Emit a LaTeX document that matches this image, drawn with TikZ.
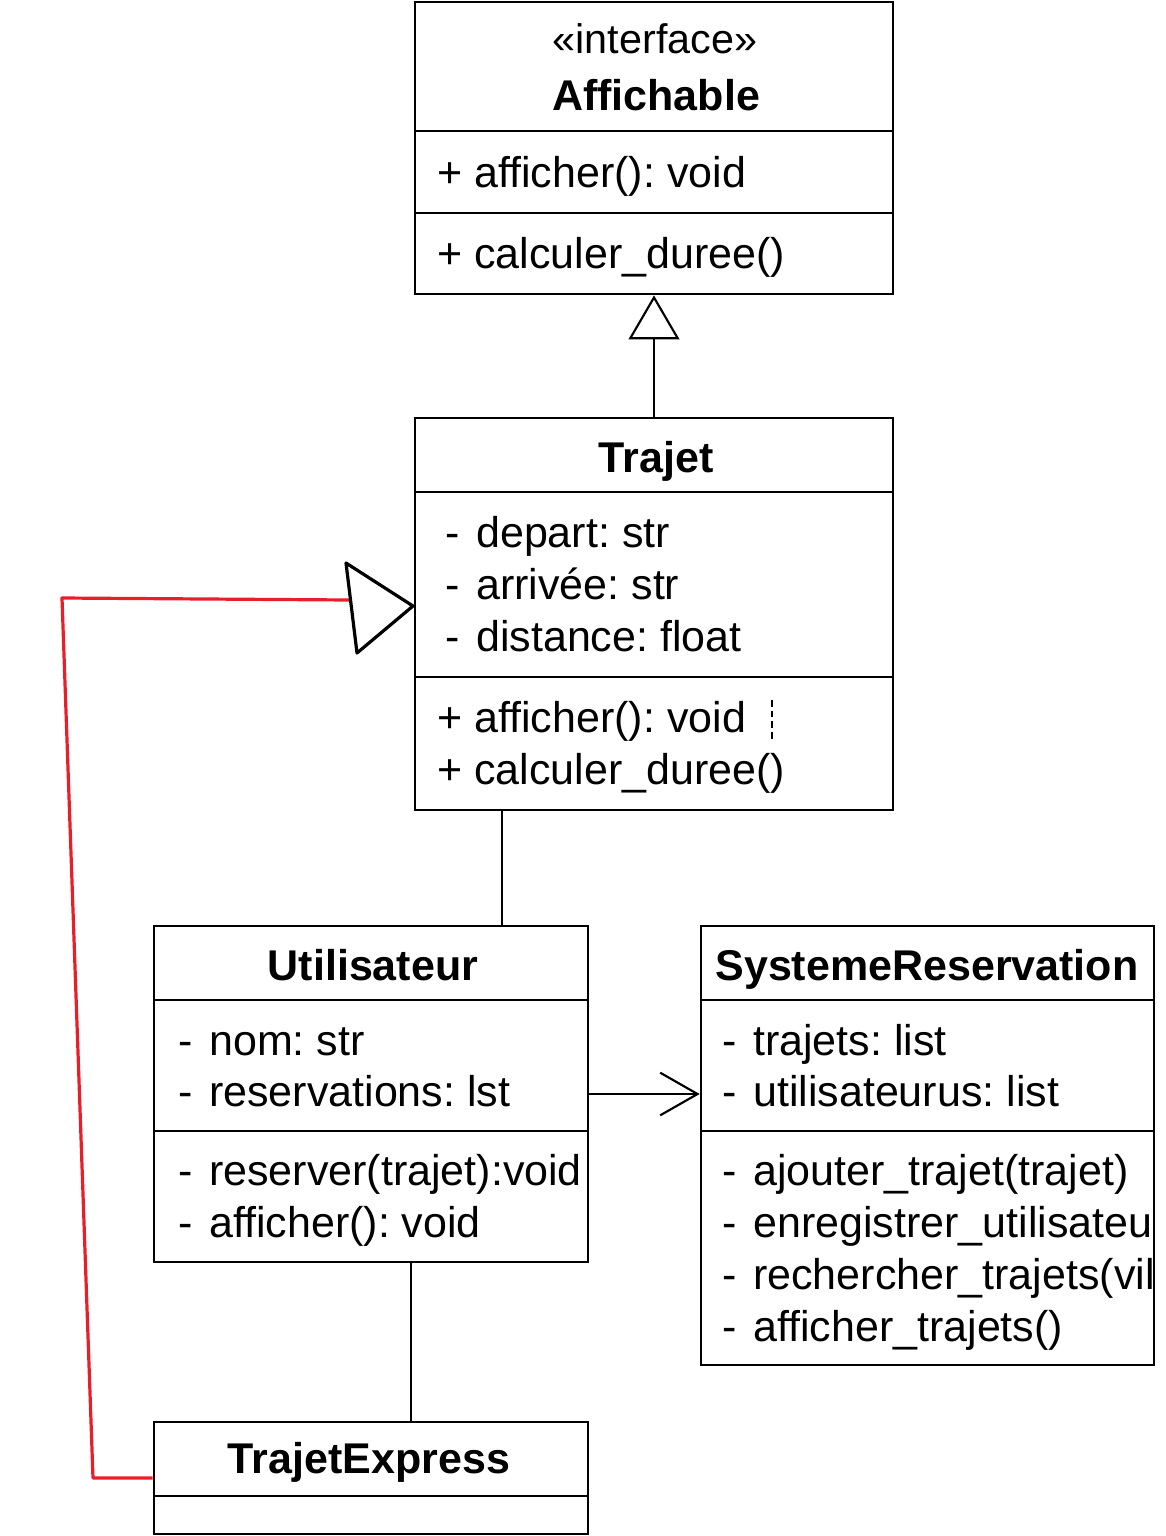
\documentclass[tikz,border=0pt]{standalone}
\usepackage{fontspec}
\setmainfont{Liberation Sans}
\usetikzlibrary{fit,arrows.meta}
\definecolor{redline}{RGB}{232,30,40}
\newcommand{\mydash}{-\kern3.5pt\ }
\begin{document}
\frenchspacing
\begin{tikzpicture}[x=0.75pt,y=-0.75pt,
  box/.style={draw,line width=2pt,inner sep=0pt,fit={#1}},
  divider/.style={line width=2pt},
  txt/.style={anchor=base west,inner sep=0pt,font=\fontsize{32.25}{39}\selectfont\frenchspacing},
  ttl/.style={anchor=base,inner sep=0pt,font=\fontsize{32.25}{39}\selectfont\bfseries},
  conn/.style={line width=1.6pt}]
\useasboundingbox (0,0) rectangle (1166,1536);
% ---------- Affichable ----------
\node[box={(415,2) (893,294)}] (aff) {};
\draw[divider] (415,131) -- (893,131);
\draw[divider] (415,213) -- (893,213);
\node[ttl,font=\fontsize{31}{39}\selectfont] (affst) at (655,53) {«interface»};
\node[ttl] (afft) at (656,110) {Affichable};
\node[txt] (affm1) at (437,187) {+ afficher(): void};
\node[txt] (affm2) at (437,268) {+ calculer\_duree()};
% ---------- Trajet ----------
\node[box={(415,418) (893,810)}] (traj) {};
\draw[divider] (415,492) -- (893,492);
\draw[divider] (415,677) -- (893,677);
\node[ttl] (trajt) at (656,472) {Trajet};
\node[txt] (traja1) at (445,547) {\mydash depart: str};
\node[txt] (traja2) at (445,599) {\mydash arrivée: str};
\node[txt] (traja3) at (445,651) {\mydash distance: float};
\node[txt] (trajm1) at (437,732) {+ afficher(): void};
\node[txt] (trajm2) at (437,784) {+ calculer\_duree()};
\draw[line width=1.6pt,dash pattern=on 5pt off 3pt] (772,700) -- (772,742);
% ---------- Utilisateur ----------
\node[box={(154,926) (588,1262)}] (util) {};
\draw[divider] (154,1000) -- (588,1000);
\draw[divider] (154,1131) -- (588,1131);
\node[ttl] (utilt) at (373,980) {Utilisateur};
\begin{scope}
\clip (util.south west) rectangle (util.north east);
\node[txt] (utila1) at (178,1055) {\mydash nom: str};
\node[txt] (utila2) at (178,1106) {\mydash reservations: lst};
\node[txt] (utilm1) at (178,1185) {\mydash reserver(trajet):void};
\node[txt] (utilm2) at (178,1237) {\mydash afficher(): void};
\end{scope}
% ---------- SystemeReservation ----------
\node[box={(701,926) (1154,1365)}] (sr) {};
\draw[divider] (701,1000) -- (1154,1000);
\draw[divider] (701,1131) -- (1154,1131);
\node[ttl] (srt) at (927,980) {SystemeReservation};
\begin{scope}
\clip (sr.south west) rectangle (sr.north east);
\node[txt] (sra1) at (722,1055) {\mydash trajets: list};
\node[txt] (sra2) at (722,1106) {\mydash utilisateurus: list};
\node[txt] (srm1) at (722,1185) {\mydash ajouter\_trajet(trajet)};
\node[txt] (srm2) at (722,1237) {\mydash enregistrer\_utilisateu};
\node[txt] (srm3) at (722,1289) {\mydash rechercher\_trajets(vil};
\node[txt] (srm4) at (722,1341) {\mydash afficher\_trajets()};
\end{scope}
% ---------- TrajetExpress ----------
\node[box={(154,1422) (588,1534)}] (te) {};
\draw[divider] (154,1496) -- (588,1496);
\node[ttl] (tet) at (369,1473) {TrajetExpress};
% ---------- connectors ----------
\draw[conn,-{Triangle[open,length=33pt,width=38pt,line width=1.6pt]}] (traj.north) -- (aff.south);
\coordinate (cx1) at (502,0);
\draw[conn] (traj.south -| cx1) -- (util.north -| cx1);
\draw[conn,-{Straight Barb[length=28pt,width=32pt,line width=1.6pt]}] (util.east) -- (util.east -| sr.west);
\coordinate (cx2) at (411,0);
\draw[conn] (util.south -| cx2) -- (te.north -| cx2);
% red generalisation line with hand-drawn triangle
\coordinate (r1) at (93,1478);
\coordinate (r2) at (62,598);
\coordinate (r3) at (350,600);
\draw[redline,line width=2.4pt,line join=round] (te.west) -- (r1) -- (r2) -- (r3);
\coordinate (t1) at (346,563);
\coordinate (t2) at (413,606);
\coordinate (t3) at (357,653);
\draw[line width=2.4pt,line join=round] (t1) -- (t2) -- (t3) -- cycle;
\end{tikzpicture}
\end{document}
